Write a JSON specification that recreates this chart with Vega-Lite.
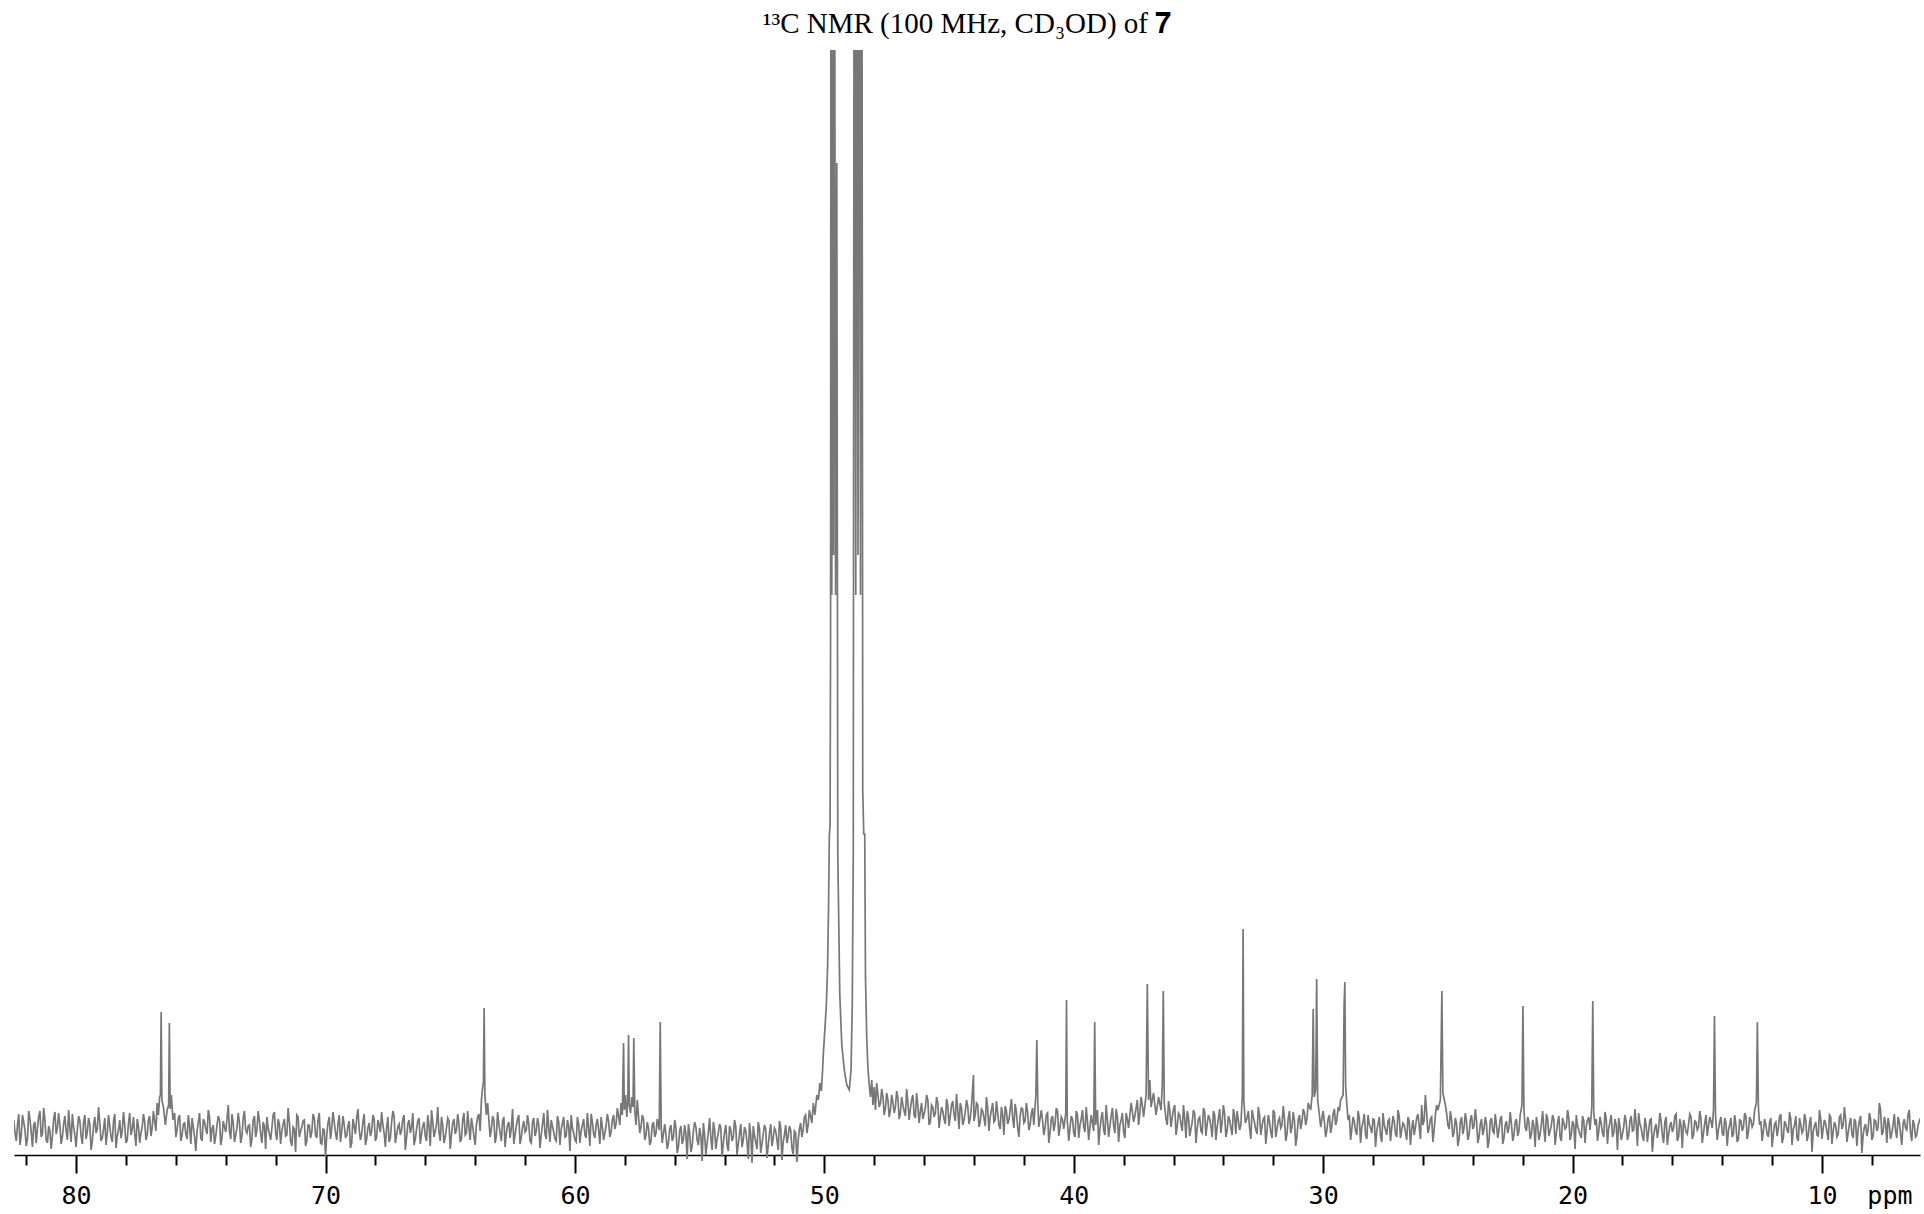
{
"$schema": "https://vega.github.io/schema/vega-lite/v6.json",
"width": 1906, "height": 1120,
"autosize": {"type": "none"},
"padding": {"left": 14, "top": 50, "right": 4, "bottom": 44},
"background": "white",
"title": {"text": "¹³C NMR (100 MHz, CD₃OD) of 𝟕", "font": "Liberation Serif", "fontSize": 29, "fontWeight": "normal", "color": "black", "anchor": "middle", "baseline": "alphabetic", "offset": 8, "dy": 20},
"config": {"view": {"stroke": null}},
"data": {"values": [
{"ppm":82.5,"i":35},{"ppm":82.4,"i":14},{"ppm":82.3,"i":41},{"ppm":82.2,"i":20},{"ppm":82.1,"i":33},{"ppm":82.0,"i":9},{"ppm":81.9,"i":44},{"ppm":81.8,"i":23},{"ppm":81.7,"i":30},{"ppm":81.6,"i":12},{"ppm":81.5,"i":38},{"ppm":81.4,"i":18},{"ppm":81.3,"i":47},{"ppm":81.2,"i":15},{"ppm":81.1,"i":29},{"ppm":81.0,"i":6},{"ppm":80.9,"i":36},{"ppm":80.8,"i":21},{"ppm":80.7,"i":42},{"ppm":80.6,"i":11},{"ppm":80.5,"i":31},{"ppm":80.4,"i":24},{"ppm":80.3,"i":45},{"ppm":80.2,"i":13},{"ppm":80.1,"i":28},{"ppm":80.0,"i":8},{"ppm":79.9,"i":39},{"ppm":79.8,"i":19},{"ppm":79.7,"i":33},{"ppm":79.6,"i":16},{"ppm":79.5,"i":37},{"ppm":79.4,"i":5},{"ppm":79.3,"i":30},{"ppm":79.2,"i":22},{"ppm":79.1,"i":48},{"ppm":79.0,"i":14},{"ppm":78.9,"i":26},{"ppm":78.8,"i":10},{"ppm":78.7,"i":40},{"ppm":78.6,"i":18},{"ppm":78.5,"i":34},{"ppm":78.4,"i":7},{"ppm":78.3,"i":25},{"ppm":78.2,"i":17},{"ppm":78.1,"i":43},{"ppm":78.0,"i":12},{"ppm":77.9,"i":32},{"ppm":77.8,"i":20},{"ppm":77.7,"i":38},{"ppm":77.6,"i":9},{"ppm":77.5,"i":29},{"ppm":77.4,"i":22},{"ppm":77.3,"i":41},{"ppm":77.2,"i":15},{"ppm":77.1,"i":35},{"ppm":77.0,"i":19},{"ppm":76.9,"i":44},{"ppm":76.8,"i":24},{"ppm":76.75,"i":52},{"ppm":76.7,"i":40},{"ppm":76.65,"i":58},{"ppm":76.62,"i":60},{"ppm":76.59,"i":143},{"ppm":76.56,"i":55},{"ppm":76.5,"i":48},{"ppm":76.42,"i":30},{"ppm":76.35,"i":45},{"ppm":76.29,"i":50},{"ppm":76.26,"i":132},{"ppm":76.23,"i":46},{"ppm":76.18,"i":60},{"ppm":76.12,"i":35},{"ppm":76.05,"i":42},{"ppm":76.0,"i":18},{"ppm":75.9,"i":37},{"ppm":75.8,"i":14},{"ppm":75.7,"i":31},{"ppm":75.6,"i":21},{"ppm":75.5,"i":40},{"ppm":75.4,"i":11},{"ppm":75.3,"i":28},{"ppm":75.2,"i":4},{"ppm":75.1,"i":33},{"ppm":75.0,"i":17},{"ppm":74.9,"i":36},{"ppm":74.8,"i":26},{"ppm":74.7,"i":45},{"ppm":74.6,"i":13},{"ppm":74.5,"i":30},{"ppm":74.4,"i":19},{"ppm":74.3,"i":39},{"ppm":74.2,"i":10},{"ppm":74.1,"i":34},{"ppm":74.0,"i":23},{"ppm":73.9,"i":50},{"ppm":73.8,"i":16},{"ppm":73.7,"i":32},{"ppm":73.6,"i":20},{"ppm":73.5,"i":42},{"ppm":73.4,"i":12},{"ppm":73.3,"i":37},{"ppm":73.2,"i":25},{"ppm":73.1,"i":29},{"ppm":73.0,"i":8},{"ppm":72.9,"i":35},{"ppm":72.8,"i":18},{"ppm":72.7,"i":44},{"ppm":72.6,"i":21},{"ppm":72.5,"i":33},{"ppm":72.4,"i":6},{"ppm":72.3,"i":27},{"ppm":72.2,"i":15},{"ppm":72.1,"i":40},{"ppm":72.0,"i":22},{"ppm":71.9,"i":36},{"ppm":71.8,"i":11},{"ppm":71.7,"i":31},{"ppm":71.6,"i":19},{"ppm":71.5,"i":47},{"ppm":71.4,"i":14},{"ppm":71.3,"i":28},{"ppm":71.2,"i":3},{"ppm":71.1,"i":38},{"ppm":71.0,"i":24},{"ppm":70.9,"i":34},{"ppm":70.8,"i":9},{"ppm":70.7,"i":30},{"ppm":70.6,"i":17},{"ppm":70.5,"i":41},{"ppm":70.4,"i":20},{"ppm":70.3,"i":35},{"ppm":70.2,"i":12},{"ppm":70.1,"i":26},{"ppm":70.0,"i":-2},{"ppm":69.9,"i":32},{"ppm":69.8,"i":16},{"ppm":69.7,"i":43},{"ppm":69.6,"i":22},{"ppm":69.5,"i":31},{"ppm":69.4,"i":13},{"ppm":69.3,"i":39},{"ppm":69.2,"i":18},{"ppm":69.1,"i":29},{"ppm":69.0,"i":7},{"ppm":68.9,"i":36},{"ppm":68.8,"i":21},{"ppm":68.7,"i":46},{"ppm":68.6,"i":15},{"ppm":68.5,"i":33},{"ppm":68.4,"i":10},{"ppm":68.3,"i":27},{"ppm":68.2,"i":19},{"ppm":68.1,"i":40},{"ppm":68.0,"i":14},{"ppm":67.9,"i":35},{"ppm":67.8,"i":23},{"ppm":67.7,"i":30},{"ppm":67.6,"i":8},{"ppm":67.5,"i":38},{"ppm":67.4,"i":17},{"ppm":67.3,"i":44},{"ppm":67.2,"i":12},{"ppm":67.1,"i":28},{"ppm":67.0,"i":20},{"ppm":66.9,"i":36},{"ppm":66.8,"i":5},{"ppm":66.7,"i":31},{"ppm":66.6,"i":22},{"ppm":66.5,"i":42},{"ppm":66.4,"i":16},{"ppm":66.3,"i":34},{"ppm":66.2,"i":11},{"ppm":66.1,"i":29},{"ppm":66.0,"i":19},{"ppm":65.9,"i":40},{"ppm":65.8,"i":9},{"ppm":65.7,"i":33},{"ppm":65.6,"i":24},{"ppm":65.5,"i":48},{"ppm":65.4,"i":14},{"ppm":65.3,"i":30},{"ppm":65.2,"i":18},{"ppm":65.1,"i":37},{"ppm":65.0,"i":6},{"ppm":64.9,"i":32},{"ppm":64.8,"i":21},{"ppm":64.7,"i":41},{"ppm":64.6,"i":13},{"ppm":64.5,"i":35},{"ppm":64.4,"i":20},{"ppm":64.3,"i":44},{"ppm":64.2,"i":15},{"ppm":64.1,"i":29},{"ppm":64.0,"i":10},{"ppm":63.9,"i":38},{"ppm":63.8,"i":24},{"ppm":63.75,"i":55},{"ppm":63.7,"i":68},{"ppm":63.67,"i":72},{"ppm":63.64,"i":147},{"ppm":63.61,"i":60},{"ppm":63.55,"i":40},{"ppm":63.5,"i":52},{"ppm":63.4,"i":18},{"ppm":63.3,"i":39},{"ppm":63.2,"i":12},{"ppm":63.1,"i":43},{"ppm":63.0,"i":22},{"ppm":62.9,"i":34},{"ppm":62.8,"i":8},{"ppm":62.7,"i":30},{"ppm":62.6,"i":17},{"ppm":62.5,"i":46},{"ppm":62.4,"i":20},{"ppm":62.3,"i":36},{"ppm":62.2,"i":11},{"ppm":62.1,"i":28},{"ppm":62.0,"i":23},{"ppm":61.9,"i":40},{"ppm":61.8,"i":14},{"ppm":61.7,"i":33},{"ppm":61.6,"i":19},{"ppm":61.5,"i":37},{"ppm":61.4,"i":7},{"ppm":61.3,"i":31},{"ppm":61.2,"i":21},{"ppm":61.1,"i":45},{"ppm":61.0,"i":13},{"ppm":60.9,"i":29},{"ppm":60.8,"i":16},{"ppm":60.7,"i":39},{"ppm":60.6,"i":10},{"ppm":60.5,"i":32},{"ppm":60.4,"i":18},{"ppm":60.3,"i":35},{"ppm":60.2,"i":4},{"ppm":60.1,"i":27},{"ppm":60.0,"i":15},{"ppm":59.9,"i":38},{"ppm":59.8,"i":12},{"ppm":59.7,"i":30},{"ppm":59.6,"i":20},{"ppm":59.5,"i":42},{"ppm":59.4,"i":9},{"ppm":59.3,"i":33},{"ppm":59.2,"i":17},{"ppm":59.1,"i":36},{"ppm":59.0,"i":11},{"ppm":58.9,"i":28},{"ppm":58.8,"i":22},{"ppm":58.7,"i":41},{"ppm":58.6,"i":18},{"ppm":58.5,"i":35},{"ppm":58.4,"i":26},{"ppm":58.3,"i":47},{"ppm":58.2,"i":30},{"ppm":58.15,"i":52},{"ppm":58.1,"i":40},{"ppm":58.05,"i":112},{"ppm":58.02,"i":45},{"ppm":57.97,"i":60},{"ppm":57.92,"i":38},{"ppm":57.88,"i":55},{"ppm":57.85,"i":120},{"ppm":57.82,"i":50},{"ppm":57.77,"i":42},{"ppm":57.72,"i":58},{"ppm":57.67,"i":48},{"ppm":57.64,"i":117},{"ppm":57.6,"i":44},{"ppm":57.55,"i":30},{"ppm":57.5,"i":55},{"ppm":57.4,"i":22},{"ppm":57.3,"i":40},{"ppm":57.2,"i":15},{"ppm":57.1,"i":33},{"ppm":57.0,"i":10},{"ppm":56.9,"i":30},{"ppm":56.8,"i":18},{"ppm":56.7,"i":36},{"ppm":56.62,"i":25},{"ppm":56.58,"i":133},{"ppm":56.54,"i":28},{"ppm":56.5,"i":12},{"ppm":56.4,"i":31},{"ppm":56.3,"i":6},{"ppm":56.2,"i":26},{"ppm":56.1,"i":14},{"ppm":56.0,"i":35},{"ppm":55.9,"i":2},{"ppm":55.8,"i":24},{"ppm":55.7,"i":11},{"ppm":55.6,"i":30},{"ppm":55.5,"i":-4},{"ppm":55.4,"i":22},{"ppm":55.3,"i":9},{"ppm":55.2,"i":33},{"ppm":55.1,"i":15},{"ppm":55.0,"i":27},{"ppm":54.9,"i":-6},{"ppm":54.8,"i":20},{"ppm":54.7,"i":12},{"ppm":54.6,"i":37},{"ppm":54.5,"i":5},{"ppm":54.4,"i":25},{"ppm":54.3,"i":16},{"ppm":54.2,"i":31},{"ppm":54.1,"i":-2},{"ppm":54.0,"i":23},{"ppm":53.9,"i":10},{"ppm":53.8,"i":29},{"ppm":53.7,"i":14},{"ppm":53.6,"i":35},{"ppm":53.5,"i":0},{"ppm":53.4,"i":21},{"ppm":53.3,"i":8},{"ppm":53.2,"i":28},{"ppm":53.1,"i":13},{"ppm":53.0,"i":32},{"ppm":52.9,"i":-8},{"ppm":52.8,"i":19},{"ppm":52.7,"i":6},{"ppm":52.6,"i":26},{"ppm":52.5,"i":11},{"ppm":52.4,"i":30},{"ppm":52.3,"i":-3},{"ppm":52.2,"i":22},{"ppm":52.1,"i":9},{"ppm":52.0,"i":27},{"ppm":51.9,"i":15},{"ppm":51.8,"i":34},{"ppm":51.7,"i":-5},{"ppm":51.6,"i":20},{"ppm":51.5,"i":12},{"ppm":51.4,"i":29},{"ppm":51.3,"i":7},{"ppm":51.2,"i":24},{"ppm":51.1,"i":-7},{"ppm":51.0,"i":26},{"ppm":50.9,"i":18},{"ppm":50.8,"i":38},{"ppm":50.7,"i":22},{"ppm":50.6,"i":45},{"ppm":50.5,"i":32},{"ppm":50.44,"i":52},{"ppm":50.38,"i":40},{"ppm":50.3,"i":60},{"ppm":50.24,"i":55},{"ppm":50.18,"i":72},{"ppm":50.12,"i":64},{"ppm":50.08,"i":80},{"ppm":50.04,"i":101},{"ppm":49.98,"i":125},{"ppm":49.92,"i":150},{"ppm":49.87,"i":188},{"ppm":49.83,"i":250},{"ppm":49.8,"i":319},{"ppm":49.77,"i":330},{"ppm":49.75,"i":518},{"ppm":49.73,"i":1500},{"ppm":49.7,"i":560},{"ppm":49.67,"i":1500},{"ppm":49.63,"i":600},{"ppm":49.6,"i":1500},{"ppm":49.55,"i":560},{"ppm":49.5,"i":992},{"ppm":49.46,"i":300},{"ppm":49.38,"i":160},{"ppm":49.3,"i":110},{"ppm":49.2,"i":85},{"ppm":49.1,"i":70},{"ppm":49.0,"i":65},{"ppm":48.93,"i":85},{"ppm":48.88,"i":150},{"ppm":48.84,"i":300},{"ppm":48.8,"i":1500},{"ppm":48.74,"i":560},{"ppm":48.7,"i":1500},{"ppm":48.65,"i":600},{"ppm":48.6,"i":1500},{"ppm":48.55,"i":560},{"ppm":48.5,"i":1500},{"ppm":48.46,"i":365},{"ppm":48.42,"i":321},{"ppm":48.38,"i":321},{"ppm":48.35,"i":178},{"ppm":48.3,"i":117},{"ppm":48.25,"i":86},{"ppm":48.2,"i":70},{"ppm":48.15,"i":58},{"ppm":48.1,"i":75},{"ppm":48.05,"i":50},{"ppm":48.0,"i":68},{"ppm":47.95,"i":45},{"ppm":47.9,"i":72},{"ppm":47.8,"i":48},{"ppm":47.7,"i":66},{"ppm":47.6,"i":40},{"ppm":47.5,"i":62},{"ppm":47.4,"i":38},{"ppm":47.3,"i":60},{"ppm":47.2,"i":42},{"ppm":47.1,"i":64},{"ppm":47.0,"i":36},{"ppm":46.9,"i":58},{"ppm":46.8,"i":44},{"ppm":46.7,"i":66},{"ppm":46.6,"i":35},{"ppm":46.5,"i":55},{"ppm":46.4,"i":40},{"ppm":46.3,"i":62},{"ppm":46.2,"i":32},{"ppm":46.1,"i":52},{"ppm":46.0,"i":41},{"ppm":45.9,"i":60},{"ppm":45.8,"i":30},{"ppm":45.7,"i":50},{"ppm":45.6,"i":38},{"ppm":45.5,"i":58},{"ppm":45.4,"i":27},{"ppm":45.3,"i":48},{"ppm":45.2,"i":36},{"ppm":45.1,"i":56},{"ppm":45.0,"i":29},{"ppm":44.9,"i":50},{"ppm":44.8,"i":40},{"ppm":44.7,"i":61},{"ppm":44.6,"i":26},{"ppm":44.5,"i":47},{"ppm":44.4,"i":35},{"ppm":44.3,"i":55},{"ppm":44.2,"i":31},{"ppm":44.1,"i":49},{"ppm":44.02,"i":80},{"ppm":44.0,"i":34},{"ppm":43.9,"i":52},{"ppm":43.8,"i":28},{"ppm":43.7,"i":46},{"ppm":43.6,"i":37},{"ppm":43.5,"i":58},{"ppm":43.4,"i":24},{"ppm":43.3,"i":45},{"ppm":43.2,"i":33},{"ppm":43.1,"i":54},{"ppm":43.0,"i":30},{"ppm":42.9,"i":48},{"ppm":42.8,"i":20},{"ppm":42.7,"i":44},{"ppm":42.6,"i":35},{"ppm":42.5,"i":56},{"ppm":42.4,"i":27},{"ppm":42.3,"i":43},{"ppm":42.2,"i":18},{"ppm":42.1,"i":47},{"ppm":42.0,"i":32},{"ppm":41.9,"i":52},{"ppm":41.8,"i":25},{"ppm":41.7,"i":41},{"ppm":41.6,"i":30},{"ppm":41.52,"i":60},{"ppm":41.48,"i":115},{"ppm":41.44,"i":50},{"ppm":41.4,"i":28},{"ppm":41.3,"i":45},{"ppm":41.2,"i":20},{"ppm":41.1,"i":40},{"ppm":41.0,"i":12},{"ppm":40.9,"i":36},{"ppm":40.8,"i":24},{"ppm":40.7,"i":47},{"ppm":40.6,"i":19},{"ppm":40.5,"i":38},{"ppm":40.4,"i":26},{"ppm":40.32,"i":42},{"ppm":40.29,"i":155},{"ppm":40.26,"i":35},{"ppm":40.2,"i":14},{"ppm":40.1,"i":39},{"ppm":40.0,"i":22},{"ppm":39.9,"i":44},{"ppm":39.8,"i":17},{"ppm":39.7,"i":36},{"ppm":39.6,"i":28},{"ppm":39.5,"i":48},{"ppm":39.4,"i":15},{"ppm":39.3,"i":40},{"ppm":39.2,"i":24},{"ppm":39.16,"i":133},{"ppm":39.12,"i":30},{"ppm":39.05,"i":45},{"ppm":39.0,"i":10},{"ppm":38.9,"i":37},{"ppm":38.8,"i":25},{"ppm":38.7,"i":50},{"ppm":38.6,"i":18},{"ppm":38.5,"i":39},{"ppm":38.4,"i":29},{"ppm":38.3,"i":46},{"ppm":38.2,"i":13},{"ppm":38.1,"i":35},{"ppm":38.0,"i":23},{"ppm":37.9,"i":42},{"ppm":37.8,"i":27},{"ppm":37.7,"i":52},{"ppm":37.6,"i":33},{"ppm":37.5,"i":47},{"ppm":37.4,"i":30},{"ppm":37.3,"i":58},{"ppm":37.2,"i":38},{"ppm":37.1,"i":60},{"ppm":37.05,"i":171},{"ppm":37.0,"i":55},{"ppm":36.95,"i":75},{"ppm":36.9,"i":48},{"ppm":36.8,"i":62},{"ppm":36.7,"i":40},{"ppm":36.6,"i":58},{"ppm":36.5,"i":45},{"ppm":36.45,"i":70},{"ppm":36.41,"i":164},{"ppm":36.37,"i":52},{"ppm":36.3,"i":36},{"ppm":36.2,"i":54},{"ppm":36.1,"i":28},{"ppm":36.0,"i":46},{"ppm":35.9,"i":20},{"ppm":35.8,"i":42},{"ppm":35.7,"i":31},{"ppm":35.6,"i":50},{"ppm":35.5,"i":17},{"ppm":35.4,"i":38},{"ppm":35.3,"i":26},{"ppm":35.2,"i":45},{"ppm":35.1,"i":12},{"ppm":35.0,"i":36},{"ppm":34.9,"i":24},{"ppm":34.8,"i":47},{"ppm":34.7,"i":19},{"ppm":34.6,"i":40},{"ppm":34.5,"i":29},{"ppm":34.4,"i":44},{"ppm":34.3,"i":15},{"ppm":34.2,"i":37},{"ppm":34.1,"i":22},{"ppm":34.0,"i":50},{"ppm":33.9,"i":18},{"ppm":33.8,"i":39},{"ppm":33.7,"i":27},{"ppm":33.6,"i":46},{"ppm":33.5,"i":21},{"ppm":33.4,"i":35},{"ppm":33.3,"i":30},{"ppm":33.24,"i":60},{"ppm":33.21,"i":226},{"ppm":33.18,"i":55},{"ppm":33.12,"i":32},{"ppm":33.0,"i":44},{"ppm":32.9,"i":16},{"ppm":32.8,"i":38},{"ppm":32.7,"i":25},{"ppm":32.6,"i":48},{"ppm":32.5,"i":20},{"ppm":32.4,"i":36},{"ppm":32.3,"i":11},{"ppm":32.2,"i":40},{"ppm":32.1,"i":23},{"ppm":32.0,"i":45},{"ppm":31.9,"i":18},{"ppm":31.8,"i":34},{"ppm":31.7,"i":27},{"ppm":31.6,"i":49},{"ppm":31.5,"i":14},{"ppm":31.4,"i":37},{"ppm":31.3,"i":22},{"ppm":31.2,"i":43},{"ppm":31.1,"i":9},{"ppm":31.0,"i":35},{"ppm":30.9,"i":26},{"ppm":30.8,"i":46},{"ppm":30.7,"i":30},{"ppm":30.6,"i":52},{"ppm":30.5,"i":45},{"ppm":30.44,"i":60},{"ppm":30.4,"i":146},{"ppm":30.36,"i":58},{"ppm":30.3,"i":65},{"ppm":30.26,"i":176},{"ppm":30.22,"i":55},{"ppm":30.15,"i":40},{"ppm":30.1,"i":28},{"ppm":30.0,"i":44},{"ppm":29.9,"i":18},{"ppm":29.8,"i":36},{"ppm":29.7,"i":22},{"ppm":29.6,"i":41},{"ppm":29.5,"i":30},{"ppm":29.4,"i":48},{"ppm":29.3,"i":55},{"ppm":29.2,"i":60},{"ppm":29.16,"i":150},{"ppm":29.13,"i":173},{"ppm":29.1,"i":70},{"ppm":29.05,"i":50},{"ppm":29.0,"i":35},{"ppm":28.9,"i":15},{"ppm":28.8,"i":38},{"ppm":28.7,"i":24},{"ppm":28.6,"i":44},{"ppm":28.5,"i":12},{"ppm":28.4,"i":33},{"ppm":28.3,"i":20},{"ppm":28.2,"i":40},{"ppm":28.1,"i":27},{"ppm":28.0,"i":36},{"ppm":27.9,"i":8},{"ppm":27.8,"i":31},{"ppm":27.7,"i":19},{"ppm":27.6,"i":42},{"ppm":27.5,"i":25},{"ppm":27.4,"i":34},{"ppm":27.3,"i":14},{"ppm":27.2,"i":39},{"ppm":27.1,"i":21},{"ppm":27.0,"i":45},{"ppm":26.9,"i":17},{"ppm":26.8,"i":32},{"ppm":26.7,"i":23},{"ppm":26.6,"i":38},{"ppm":26.5,"i":10},{"ppm":26.4,"i":35},{"ppm":26.3,"i":28},{"ppm":26.2,"i":41},{"ppm":26.1,"i":16},{"ppm":26.0,"i":30},{"ppm":25.9,"i":60},{"ppm":25.8,"i":22},{"ppm":25.7,"i":36},{"ppm":25.6,"i":13},{"ppm":25.5,"i":40},{"ppm":25.4,"i":45},{"ppm":25.3,"i":55},{"ppm":25.24,"i":164},{"ppm":25.2,"i":62},{"ppm":25.1,"i":50},{"ppm":25.0,"i":30},{"ppm":24.9,"i":44},{"ppm":24.8,"i":18},{"ppm":24.7,"i":37},{"ppm":24.6,"i":9},{"ppm":24.5,"i":33},{"ppm":24.4,"i":21},{"ppm":24.3,"i":42},{"ppm":24.2,"i":15},{"ppm":24.1,"i":35},{"ppm":24.0,"i":26},{"ppm":23.9,"i":46},{"ppm":23.8,"i":12},{"ppm":23.7,"i":31},{"ppm":23.6,"i":20},{"ppm":23.5,"i":38},{"ppm":23.4,"i":7},{"ppm":23.3,"i":34},{"ppm":23.2,"i":24},{"ppm":23.1,"i":41},{"ppm":23.0,"i":17},{"ppm":22.9,"i":36},{"ppm":22.8,"i":11},{"ppm":22.7,"i":30},{"ppm":22.6,"i":22},{"ppm":22.5,"i":43},{"ppm":22.4,"i":14},{"ppm":22.3,"i":33},{"ppm":22.2,"i":19},{"ppm":22.1,"i":40},{"ppm":22.03,"i":50},{"ppm":21.99,"i":149},{"ppm":21.95,"i":45},{"ppm":21.9,"i":28},{"ppm":21.8,"i":38},{"ppm":21.7,"i":16},{"ppm":21.6,"i":35},{"ppm":21.5,"i":8},{"ppm":21.4,"i":30},{"ppm":21.3,"i":21},{"ppm":21.2,"i":44},{"ppm":21.1,"i":13},{"ppm":21.0,"i":36},{"ppm":20.9,"i":24},{"ppm":20.8,"i":40},{"ppm":20.7,"i":10},{"ppm":20.6,"i":32},{"ppm":20.5,"i":18},{"ppm":20.4,"i":37},{"ppm":20.3,"i":26},{"ppm":20.2,"i":45},{"ppm":20.1,"i":15},{"ppm":20.0,"i":34},{"ppm":19.9,"i":6},{"ppm":19.8,"i":29},{"ppm":19.7,"i":20},{"ppm":19.6,"i":39},{"ppm":19.5,"i":12},{"ppm":19.4,"i":35},{"ppm":19.3,"i":25},{"ppm":19.23,"i":48},{"ppm":19.19,"i":154},{"ppm":19.15,"i":42},{"ppm":19.1,"i":30},{"ppm":19.0,"i":14},{"ppm":18.9,"i":38},{"ppm":18.8,"i":22},{"ppm":18.7,"i":43},{"ppm":18.6,"i":11},{"ppm":18.5,"i":33},{"ppm":18.4,"i":18},{"ppm":18.3,"i":36},{"ppm":18.2,"i":5},{"ppm":18.1,"i":28},{"ppm":18.0,"i":21},{"ppm":17.9,"i":40},{"ppm":17.8,"i":15},{"ppm":17.7,"i":34},{"ppm":17.6,"i":24},{"ppm":17.5,"i":46},{"ppm":17.4,"i":9},{"ppm":17.3,"i":31},{"ppm":17.2,"i":19},{"ppm":17.1,"i":37},{"ppm":17.0,"i":13},{"ppm":16.9,"i":35},{"ppm":16.8,"i":3},{"ppm":16.7,"i":27},{"ppm":16.6,"i":17},{"ppm":16.5,"i":42},{"ppm":16.4,"i":20},{"ppm":16.3,"i":33},{"ppm":16.2,"i":10},{"ppm":16.1,"i":29},{"ppm":16.0,"i":23},{"ppm":15.9,"i":39},{"ppm":15.8,"i":14},{"ppm":15.7,"i":36},{"ppm":15.6,"i":7},{"ppm":15.5,"i":30},{"ppm":15.4,"i":21},{"ppm":15.3,"i":41},{"ppm":15.2,"i":16},{"ppm":15.1,"i":34},{"ppm":15.0,"i":25},{"ppm":14.9,"i":44},{"ppm":14.8,"i":12},{"ppm":14.7,"i":32},{"ppm":14.6,"i":19},{"ppm":14.5,"i":38},{"ppm":14.4,"i":27},{"ppm":14.35,"i":45},{"ppm":14.31,"i":139},{"ppm":14.27,"i":40},{"ppm":14.2,"i":15},{"ppm":14.1,"i":33},{"ppm":14.0,"i":22},{"ppm":13.9,"i":37},{"ppm":13.8,"i":9},{"ppm":13.7,"i":30},{"ppm":13.6,"i":18},{"ppm":13.5,"i":40},{"ppm":13.4,"i":13},{"ppm":13.3,"i":35},{"ppm":13.2,"i":24},{"ppm":13.1,"i":42},{"ppm":13.0,"i":16},{"ppm":12.9,"i":38},{"ppm":12.8,"i":28},{"ppm":12.7,"i":45},{"ppm":12.63,"i":52},{"ppm":12.59,"i":133},{"ppm":12.55,"i":48},{"ppm":12.5,"i":30},{"ppm":12.4,"i":14},{"ppm":12.3,"i":36},{"ppm":12.2,"i":21},{"ppm":12.1,"i":33},{"ppm":12.0,"i":8},{"ppm":11.9,"i":31},{"ppm":11.8,"i":19},{"ppm":11.7,"i":39},{"ppm":11.6,"i":12},{"ppm":11.5,"i":34},{"ppm":11.4,"i":25},{"ppm":11.3,"i":43},{"ppm":11.2,"i":10},{"ppm":11.1,"i":30},{"ppm":11.0,"i":17},{"ppm":10.9,"i":37},{"ppm":10.8,"i":22},{"ppm":10.7,"i":41},{"ppm":10.6,"i":14},{"ppm":10.5,"i":32},{"ppm":10.4,"i":3},{"ppm":10.3,"i":29},{"ppm":10.2,"i":20},{"ppm":10.1,"i":45},{"ppm":10.0,"i":16},{"ppm":9.9,"i":35},{"ppm":9.8,"i":23},{"ppm":9.7,"i":40},{"ppm":9.6,"i":11},{"ppm":9.5,"i":33},{"ppm":9.4,"i":18},{"ppm":9.3,"i":38},{"ppm":9.2,"i":26},{"ppm":9.1,"i":48},{"ppm":9.0,"i":13},{"ppm":8.9,"i":31},{"ppm":8.8,"i":21},{"ppm":8.7,"i":36},{"ppm":8.6,"i":9},{"ppm":8.5,"i":34},{"ppm":8.4,"i":2},{"ppm":8.3,"i":28},{"ppm":8.2,"i":19},{"ppm":8.1,"i":42},{"ppm":8.0,"i":15},{"ppm":7.9,"i":35},{"ppm":7.8,"i":24},{"ppm":7.7,"i":52},{"ppm":7.6,"i":20},{"ppm":7.5,"i":38},{"ppm":7.4,"i":12},{"ppm":7.3,"i":30},{"ppm":7.2,"i":22},{"ppm":7.1,"i":41},{"ppm":7.0,"i":17},{"ppm":6.9,"i":33},{"ppm":6.8,"i":10},{"ppm":6.7,"i":36},{"ppm":6.6,"i":25},{"ppm":6.5,"i":45},{"ppm":6.4,"i":14},{"ppm":6.3,"i":30},{"ppm":6.2,"i":20},{"ppm":6.1,"i":34},{"ppm":6.0,"i":18},
{"ppm":82.45,"i":22},{"ppm":82.35,"i":30},{"ppm":82.25,"i":10},{"ppm":82.15,"i":40},{"ppm":82.05,"i":25},{"ppm":81.95,"i":16},{"ppm":81.85,"i":36},{"ppm":81.75,"i":8},{"ppm":81.65,"i":33},{"ppm":81.55,"i":27},{"ppm":81.45,"i":44},{"ppm":81.35,"i":21},{"ppm":81.25,"i":35},{"ppm":81.15,"i":12},{"ppm":81.05,"i":24},{"ppm":80.95,"i":19},{"ppm":80.85,"i":43},{"ppm":80.75,"i":27},{"ppm":80.65,"i":30},{"ppm":80.55,"i":18},{"ppm":80.45,"i":39},{"ppm":80.35,"i":15},{"ppm":80.25,"i":28},{"ppm":80.15,"i":41},{"ppm":80.05,"i":20},{"ppm":79.95,"i":26},{"ppm":79.85,"i":34},{"ppm":79.75,"i":11},{"ppm":79.65,"i":40},{"ppm":79.55,"i":23},{"ppm":79.45,"i":31},{"ppm":79.35,"i":14},{"ppm":79.25,"i":38},{"ppm":79.15,"i":26},{"ppm":79.05,"i":32},{"ppm":78.95,"i":17},{"ppm":78.85,"i":37},{"ppm":78.75,"i":22},{"ppm":78.65,"i":29},{"ppm":78.55,"i":13},{"ppm":78.45,"i":41},{"ppm":78.35,"i":19},{"ppm":78.25,"i":35},{"ppm":78.15,"i":24},{"ppm":78.05,"i":30},{"ppm":77.95,"i":15},{"ppm":77.85,"i":42},{"ppm":77.75,"i":26},{"ppm":77.65,"i":21},{"ppm":77.55,"i":36},{"ppm":77.45,"i":12},{"ppm":77.35,"i":28},{"ppm":77.25,"i":33},{"ppm":77.15,"i":20},{"ppm":77.05,"i":39},{"ppm":76.95,"i":27},{"ppm":76.85,"i":34},
{"ppm":75.95,"i":25},{"ppm":75.85,"i":40},{"ppm":75.75,"i":20},{"ppm":75.65,"i":32},{"ppm":75.55,"i":16},{"ppm":75.45,"i":29},{"ppm":75.35,"i":37},{"ppm":75.25,"i":18},{"ppm":75.15,"i":24},{"ppm":75.05,"i":42},{"ppm":74.95,"i":14},{"ppm":74.85,"i":33},{"ppm":74.75,"i":21},{"ppm":74.65,"i":38},{"ppm":74.55,"i":26},{"ppm":74.45,"i":11},{"ppm":74.35,"i":30},{"ppm":74.25,"i":35},{"ppm":74.15,"i":17},{"ppm":74.05,"i":28},{"ppm":73.95,"i":36},{"ppm":73.85,"i":24},{"ppm":73.75,"i":41},{"ppm":73.65,"i":13},{"ppm":73.55,"i":27},{"ppm":73.45,"i":32},{"ppm":73.35,"i":19},{"ppm":73.25,"i":44},{"ppm":73.15,"i":22},{"ppm":73.05,"i":30},{"ppm":72.95,"i":16},{"ppm":72.85,"i":39},{"ppm":72.75,"i":25},{"ppm":72.65,"i":34},{"ppm":72.55,"i":12},{"ppm":72.45,"i":29},{"ppm":72.35,"i":38},{"ppm":72.25,"i":21},{"ppm":72.15,"i":27},{"ppm":72.05,"i":43},{"ppm":71.95,"i":15},{"ppm":71.85,"i":31},{"ppm":71.75,"i":24},{"ppm":71.65,"i":36},{"ppm":71.55,"i":20},{"ppm":71.45,"i":33},{"ppm":71.35,"i":9},{"ppm":71.25,"i":26},{"ppm":71.15,"i":40},{"ppm":71.05,"i":18},{"ppm":70.95,"i":28},{"ppm":70.85,"i":35},{"ppm":70.75,"i":14},{"ppm":70.65,"i":30},{"ppm":70.55,"i":23},{"ppm":70.45,"i":37},{"ppm":70.35,"i":17},{"ppm":70.25,"i":42},{"ppm":70.15,"i":11},{"ppm":70.05,"i":25},{"ppm":69.95,"i":20},{"ppm":69.85,"i":38},{"ppm":69.75,"i":27},{"ppm":69.65,"i":33},{"ppm":69.55,"i":15},{"ppm":69.45,"i":40},{"ppm":69.35,"i":24},{"ppm":69.25,"i":30},{"ppm":69.15,"i":19},{"ppm":69.05,"i":34},{"ppm":68.95,"i":12},{"ppm":68.85,"i":29},{"ppm":68.75,"i":37},{"ppm":68.65,"i":26},{"ppm":68.55,"i":21},{"ppm":68.45,"i":41},{"ppm":68.35,"i":16},{"ppm":68.25,"i":32},{"ppm":68.15,"i":24},{"ppm":68.05,"i":36},{"ppm":67.95,"i":18},{"ppm":67.85,"i":30},{"ppm":67.75,"i":43},{"ppm":67.65,"i":22},{"ppm":67.55,"i":27},{"ppm":67.45,"i":13},{"ppm":67.35,"i":33},{"ppm":67.25,"i":39},{"ppm":67.15,"i":20},{"ppm":67.05,"i":31},{"ppm":66.95,"i":25},{"ppm":66.85,"i":40},{"ppm":66.75,"i":17},{"ppm":66.65,"i":35},{"ppm":66.55,"i":28},{"ppm":66.45,"i":10},{"ppm":66.35,"i":26},{"ppm":66.25,"i":37},{"ppm":66.15,"i":21},{"ppm":66.05,"i":33},{"ppm":65.95,"i":14},{"ppm":65.85,"i":29},{"ppm":65.75,"i":45},{"ppm":65.65,"i":18},{"ppm":65.55,"i":30},{"ppm":65.45,"i":23},{"ppm":65.35,"i":38},{"ppm":65.25,"i":12},{"ppm":65.15,"i":27},{"ppm":65.05,"i":34},{"ppm":64.95,"i":20},{"ppm":64.85,"i":36},{"ppm":64.75,"i":25},{"ppm":64.65,"i":31},{"ppm":64.55,"i":16},{"ppm":64.45,"i":42},{"ppm":64.35,"i":22},{"ppm":64.25,"i":28},{"ppm":64.15,"i":37},{"ppm":64.05,"i":19},{"ppm":63.95,"i":30},{"ppm":63.85,"i":41},
{"ppm":63.35,"i":26},{"ppm":63.25,"i":35},{"ppm":63.15,"i":19},{"ppm":63.05,"i":31},{"ppm":62.95,"i":14},{"ppm":62.85,"i":38},{"ppm":62.75,"i":22},{"ppm":62.65,"i":33},{"ppm":62.55,"i":27},{"ppm":62.45,"i":11},{"ppm":62.35,"i":29},{"ppm":62.25,"i":40},{"ppm":62.15,"i":18},{"ppm":62.05,"i":34},{"ppm":61.95,"i":25},{"ppm":61.85,"i":31},{"ppm":61.75,"i":12},{"ppm":61.65,"i":37},{"ppm":61.55,"i":24},{"ppm":61.45,"i":30},{"ppm":61.35,"i":20},{"ppm":61.25,"i":42},{"ppm":61.15,"i":16},{"ppm":61.05,"i":28},{"ppm":60.95,"i":35},{"ppm":60.85,"i":23},{"ppm":60.75,"i":14},{"ppm":60.65,"i":33},{"ppm":60.55,"i":26},{"ppm":60.45,"i":38},{"ppm":60.35,"i":19},{"ppm":60.25,"i":29},{"ppm":60.15,"i":40},{"ppm":60.05,"i":22},{"ppm":59.95,"i":13},{"ppm":59.85,"i":31},{"ppm":59.75,"i":24},{"ppm":59.65,"i":36},{"ppm":59.55,"i":17},{"ppm":59.45,"i":27},{"ppm":59.35,"i":41},{"ppm":59.25,"i":21},{"ppm":59.15,"i":30},{"ppm":59.05,"i":25},{"ppm":58.95,"i":38},{"ppm":58.85,"i":15},{"ppm":58.75,"i":29},{"ppm":58.65,"i":34},{"ppm":58.55,"i":23},{"ppm":58.45,"i":40},{"ppm":58.35,"i":31},
{"ppm":57.35,"i":28},{"ppm":57.25,"i":36},{"ppm":57.15,"i":20},{"ppm":57.05,"i":27},{"ppm":56.95,"i":14},{"ppm":56.85,"i":33},{"ppm":56.75,"i":22},
{"ppm":56.35,"i":20},{"ppm":56.25,"i":12},{"ppm":56.15,"i":30},{"ppm":56.05,"i":18},{"ppm":55.95,"i":27},{"ppm":55.85,"i":8},{"ppm":55.75,"i":29},{"ppm":55.65,"i":16},{"ppm":55.55,"i":21},{"ppm":55.45,"i":31},{"ppm":55.35,"i":3},{"ppm":55.25,"i":24},{"ppm":55.15,"i":28},{"ppm":55.05,"i":10},{"ppm":54.95,"i":19},{"ppm":54.85,"i":32},{"ppm":54.75,"i":0},{"ppm":54.65,"i":23},{"ppm":54.55,"i":17},{"ppm":54.45,"i":33},{"ppm":54.35,"i":6},{"ppm":54.25,"i":22},{"ppm":54.15,"i":27},{"ppm":54.05,"i":12},{"ppm":53.95,"i":30},{"ppm":53.85,"i":4},{"ppm":53.75,"i":25},{"ppm":53.65,"i":18},{"ppm":53.55,"i":28},{"ppm":53.45,"i":11},{"ppm":53.35,"i":31},{"ppm":53.25,"i":15},{"ppm":53.15,"i":24},{"ppm":53.05,"i":-4},{"ppm":52.95,"i":20},{"ppm":52.85,"i":29},{"ppm":52.75,"i":13},{"ppm":52.65,"i":33},{"ppm":52.55,"i":2},{"ppm":52.45,"i":21},{"ppm":52.35,"i":26},{"ppm":52.25,"i":9},{"ppm":52.15,"i":31},{"ppm":52.05,"i":17},{"ppm":51.95,"i":24},{"ppm":51.85,"i":5},{"ppm":51.75,"i":28},{"ppm":51.65,"i":13},{"ppm":51.55,"i":30},{"ppm":51.45,"i":19},{"ppm":51.35,"i":25},{"ppm":51.25,"i":1},{"ppm":51.15,"i":22},{"ppm":51.05,"i":14},{"ppm":50.95,"i":32},{"ppm":50.85,"i":25},{"ppm":50.75,"i":40},{"ppm":50.65,"i":30},
{"ppm":47.85,"i":60},{"ppm":47.75,"i":52},{"ppm":47.65,"i":58},{"ppm":47.55,"i":47},{"ppm":47.45,"i":55},{"ppm":47.35,"i":45},{"ppm":47.25,"i":53},{"ppm":47.15,"i":48},{"ppm":47.05,"i":57},{"ppm":46.95,"i":42},{"ppm":46.85,"i":50},{"ppm":46.75,"i":39},{"ppm":46.65,"i":53},{"ppm":46.55,"i":46},{"ppm":46.45,"i":60},{"ppm":46.35,"i":37},{"ppm":46.25,"i":49},{"ppm":46.15,"i":44},{"ppm":46.05,"i":36},{"ppm":45.95,"i":47},{"ppm":45.85,"i":55},{"ppm":45.75,"i":33},{"ppm":45.65,"i":48},{"ppm":45.55,"i":42},{"ppm":45.45,"i":52},{"ppm":45.35,"i":38},{"ppm":45.25,"i":44},{"ppm":45.15,"i":31},{"ppm":45.05,"i":50},{"ppm":44.95,"i":39},{"ppm":44.85,"i":54},{"ppm":44.75,"i":34},{"ppm":44.65,"i":45},{"ppm":44.55,"i":52},{"ppm":44.45,"i":30},{"ppm":44.35,"i":43},{"ppm":44.25,"i":49},{"ppm":44.15,"i":37},
{"ppm":43.95,"i":40},{"ppm":43.85,"i":50},{"ppm":43.75,"i":33},{"ppm":43.65,"i":44},{"ppm":43.55,"i":29},{"ppm":43.45,"i":47},{"ppm":43.35,"i":38},{"ppm":43.25,"i":52},{"ppm":43.15,"i":35},{"ppm":43.05,"i":42},{"ppm":42.95,"i":26},{"ppm":42.85,"i":40},{"ppm":42.75,"i":49},{"ppm":42.65,"i":31},{"ppm":42.55,"i":45},{"ppm":42.45,"i":37},{"ppm":42.35,"i":51},{"ppm":42.25,"i":28},{"ppm":42.15,"i":39},{"ppm":42.05,"i":46},{"ppm":41.95,"i":34},{"ppm":41.85,"i":43},{"ppm":41.75,"i":30},{"ppm":41.65,"i":47},
{"ppm":41.25,"i":35},{"ppm":41.15,"i":27},{"ppm":41.05,"i":42},{"ppm":40.95,"i":22},{"ppm":40.85,"i":39},{"ppm":40.75,"i":31},{"ppm":40.65,"i":44},{"ppm":40.55,"i":28},{"ppm":40.45,"i":35},
{"ppm":40.15,"i":27},{"ppm":40.05,"i":36},{"ppm":39.95,"i":18},{"ppm":39.85,"i":40},{"ppm":39.75,"i":30},{"ppm":39.65,"i":45},{"ppm":39.55,"i":23},{"ppm":39.45,"i":34},{"ppm":39.35,"i":28},
{"ppm":38.95,"i":26},{"ppm":38.85,"i":43},{"ppm":38.75,"i":20},{"ppm":38.65,"i":35},{"ppm":38.55,"i":29},{"ppm":38.45,"i":47},{"ppm":38.35,"i":22},{"ppm":38.25,"i":38},{"ppm":38.15,"i":30},{"ppm":38.05,"i":42},{"ppm":37.95,"i":17},{"ppm":37.85,"i":36},{"ppm":37.75,"i":40},{"ppm":37.65,"i":44},{"ppm":37.55,"i":39},{"ppm":37.45,"i":55},{"ppm":37.35,"i":42},{"ppm":37.25,"i":50},
{"ppm":36.25,"i":30},{"ppm":36.15,"i":45},{"ppm":36.05,"i":38},{"ppm":35.95,"i":50},{"ppm":35.85,"i":29},{"ppm":35.75,"i":40},{"ppm":35.65,"i":24},{"ppm":35.55,"i":36},{"ppm":35.45,"i":44},{"ppm":35.35,"i":19},{"ppm":35.25,"i":33},{"ppm":35.15,"i":41},{"ppm":35.05,"i":27},{"ppm":34.95,"i":38},{"ppm":34.85,"i":22},{"ppm":34.75,"i":43},{"ppm":34.65,"i":31},{"ppm":34.55,"i":36},{"ppm":34.45,"i":18},{"ppm":34.35,"i":40},{"ppm":34.25,"i":28},{"ppm":34.15,"i":46},{"ppm":34.05,"i":33},{"ppm":33.95,"i":41},{"ppm":33.85,"i":24},{"ppm":33.75,"i":35},{"ppm":33.65,"i":20},{"ppm":33.55,"i":39},{"ppm":33.45,"i":44},{"ppm":33.35,"i":25},
{"ppm":33.05,"i":37},{"ppm":32.95,"i":27},{"ppm":32.85,"i":45},{"ppm":32.75,"i":32},{"ppm":32.65,"i":21},{"ppm":32.55,"i":40},{"ppm":32.45,"i":29},{"ppm":32.35,"i":38},{"ppm":32.25,"i":24},{"ppm":32.15,"i":33},{"ppm":32.05,"i":17},{"ppm":31.95,"i":42},{"ppm":31.85,"i":26},{"ppm":31.75,"i":37},{"ppm":31.65,"i":30},{"ppm":31.55,"i":36},{"ppm":31.45,"i":21},{"ppm":31.35,"i":44},{"ppm":31.25,"i":28},{"ppm":31.15,"i":34},{"ppm":31.05,"i":19},{"ppm":30.95,"i":40},{"ppm":30.85,"i":33},{"ppm":30.75,"i":42},{"ppm":30.65,"i":36},
{"ppm":29.95,"i":33},{"ppm":29.85,"i":25},{"ppm":29.75,"i":40},{"ppm":29.65,"i":29},{"ppm":29.55,"i":46},{"ppm":29.45,"i":35},{"ppm":29.35,"i":44},
{"ppm":28.95,"i":40},{"ppm":28.85,"i":26},{"ppm":28.75,"i":33},{"ppm":28.65,"i":20},{"ppm":28.55,"i":37},{"ppm":28.45,"i":28},{"ppm":28.35,"i":41},{"ppm":28.25,"i":16},{"ppm":28.15,"i":31},{"ppm":28.05,"i":22},{"ppm":27.95,"i":35},{"ppm":27.85,"i":24},{"ppm":27.75,"i":38},{"ppm":27.65,"i":13},{"ppm":27.55,"i":30},{"ppm":27.45,"i":20},{"ppm":27.35,"i":36},{"ppm":27.25,"i":27},{"ppm":27.15,"i":33},{"ppm":27.05,"i":18},{"ppm":26.95,"i":39},{"ppm":26.85,"i":25},{"ppm":26.75,"i":30},{"ppm":26.65,"i":15},{"ppm":26.55,"i":34},{"ppm":26.45,"i":26},{"ppm":26.35,"i":20},{"ppm":26.25,"i":37},{"ppm":26.15,"i":29},{"ppm":26.05,"i":50},{"ppm":25.95,"i":35},{"ppm":25.85,"i":42},{"ppm":25.75,"i":27},{"ppm":25.65,"i":38},{"ppm":25.55,"i":25},{"ppm":25.45,"i":50},
{"ppm":25.05,"i":42},{"ppm":24.95,"i":26},{"ppm":24.85,"i":35},{"ppm":24.75,"i":23},{"ppm":24.65,"i":31},{"ppm":24.55,"i":16},{"ppm":24.45,"i":38},{"ppm":24.35,"i":27},{"ppm":24.25,"i":33},{"ppm":24.15,"i":20},{"ppm":24.05,"i":40},{"ppm":23.95,"i":29},{"ppm":23.85,"i":34},{"ppm":23.75,"i":18},{"ppm":23.65,"i":36},{"ppm":23.55,"i":26},{"ppm":23.45,"i":31},{"ppm":23.35,"i":14},{"ppm":23.25,"i":37},{"ppm":23.15,"i":22},{"ppm":23.05,"i":30},{"ppm":22.95,"i":25},{"ppm":22.85,"i":39},{"ppm":22.75,"i":17},{"ppm":22.65,"i":34},{"ppm":22.55,"i":27},{"ppm":22.45,"i":31},{"ppm":22.35,"i":20},{"ppm":22.25,"i":36},{"ppm":22.15,"i":24},
{"ppm":21.85,"i":24},{"ppm":21.75,"i":33},{"ppm":21.65,"i":21},{"ppm":21.55,"i":29},{"ppm":21.45,"i":38},{"ppm":21.35,"i":15},{"ppm":21.25,"i":31},{"ppm":21.15,"i":26},{"ppm":21.05,"i":41},{"ppm":20.95,"i":19},{"ppm":20.85,"i":30},{"ppm":20.75,"i":35},{"ppm":20.65,"i":22},{"ppm":20.55,"i":39},{"ppm":20.45,"i":14},{"ppm":20.35,"i":32},{"ppm":20.25,"i":28},{"ppm":20.15,"i":37},{"ppm":20.05,"i":21},{"ppm":19.95,"i":30},{"ppm":19.85,"i":40},{"ppm":19.75,"i":25},{"ppm":19.65,"i":17},{"ppm":19.55,"i":34},{"ppm":19.45,"i":29},{"ppm":19.35,"i":38},
{"ppm":19.05,"i":36},{"ppm":18.95,"i":24},{"ppm":18.85,"i":31},{"ppm":18.75,"i":18},{"ppm":18.65,"i":36},{"ppm":18.55,"i":27},{"ppm":18.45,"i":40},{"ppm":18.35,"i":22},{"ppm":18.25,"i":30},{"ppm":18.15,"i":37},{"ppm":18.05,"i":15},{"ppm":17.95,"i":28},{"ppm":17.85,"i":33},{"ppm":17.75,"i":20},{"ppm":17.65,"i":39},{"ppm":17.55,"i":25},{"ppm":17.45,"i":32},{"ppm":17.35,"i":42},{"ppm":17.25,"i":27},{"ppm":17.15,"i":14},{"ppm":17.05,"i":30},{"ppm":16.95,"i":24},{"ppm":16.85,"i":36},{"ppm":16.75,"i":19},{"ppm":16.65,"i":31},{"ppm":16.55,"i":26},{"ppm":16.45,"i":34},{"ppm":16.35,"i":12},{"ppm":16.25,"i":38},{"ppm":16.15,"i":21},{"ppm":16.05,"i":33},{"ppm":15.95,"i":27},{"ppm":15.85,"i":41},{"ppm":15.75,"i":18},{"ppm":15.65,"i":29},{"ppm":15.55,"i":35},{"ppm":15.45,"i":23},{"ppm":15.35,"i":31},{"ppm":15.25,"i":38},{"ppm":15.15,"i":20},{"ppm":15.05,"i":33},{"ppm":14.95,"i":28},{"ppm":14.85,"i":36},{"ppm":14.75,"i":22},{"ppm":14.65,"i":40},{"ppm":14.55,"i":29},{"ppm":14.45,"i":34},
{"ppm":14.15,"i":26},{"ppm":14.05,"i":38},{"ppm":13.95,"i":19},{"ppm":13.85,"i":32},{"ppm":13.75,"i":25},{"ppm":13.65,"i":37},{"ppm":13.55,"i":21},{"ppm":13.45,"i":30},{"ppm":13.35,"i":16},{"ppm":13.25,"i":34},{"ppm":13.15,"i":28},{"ppm":13.05,"i":39},{"ppm":12.95,"i":23},{"ppm":12.85,"i":35},{"ppm":12.75,"i":31},
{"ppm":12.45,"i":34},{"ppm":12.35,"i":24},{"ppm":12.25,"i":30},{"ppm":12.15,"i":18},{"ppm":12.05,"i":37},{"ppm":11.95,"i":21},{"ppm":11.85,"i":33},{"ppm":11.75,"i":27},{"ppm":11.65,"i":40},{"ppm":11.55,"i":17},{"ppm":11.45,"i":31},{"ppm":11.35,"i":22},{"ppm":11.25,"i":36},{"ppm":11.15,"i":26},{"ppm":11.05,"i":39},{"ppm":10.95,"i":14},{"ppm":10.85,"i":30},{"ppm":10.75,"i":25},{"ppm":10.65,"i":35},{"ppm":10.55,"i":20},{"ppm":10.45,"i":38},{"ppm":10.35,"i":24},{"ppm":10.25,"i":33},{"ppm":10.15,"i":19},{"ppm":10.05,"i":36},{"ppm":9.95,"i":27},{"ppm":9.85,"i":31},{"ppm":9.75,"i":15},{"ppm":9.65,"i":38},{"ppm":9.55,"i":24},{"ppm":9.45,"i":29},{"ppm":9.35,"i":21},{"ppm":9.25,"i":40},{"ppm":9.15,"i":30},{"ppm":9.05,"i":35},{"ppm":8.95,"i":22},{"ppm":8.85,"i":37},{"ppm":8.75,"i":17},{"ppm":8.65,"i":33},{"ppm":8.55,"i":26},{"ppm":8.45,"i":39},{"ppm":8.35,"i":20},{"ppm":8.25,"i":31},{"ppm":8.15,"i":25},{"ppm":8.05,"i":36},{"ppm":7.95,"i":19},{"ppm":7.85,"i":34},{"ppm":7.75,"i":28},{"ppm":7.65,"i":45},{"ppm":7.55,"i":23},{"ppm":7.45,"i":32},{"ppm":7.35,"i":37},{"ppm":7.25,"i":16},{"ppm":7.15,"i":30},{"ppm":7.05,"i":24},{"ppm":6.95,"i":38},{"ppm":6.85,"i":21},{"ppm":6.75,"i":31},{"ppm":6.65,"i":27},{"ppm":6.55,"i":40},{"ppm":6.45,"i":22},{"ppm":6.35,"i":35},{"ppm":6.25,"i":18},{"ppm":6.15,"i":29},{"ppm":6.05,"i":37}
]},
"mark": {"type": "line", "color": "#777777", "strokeWidth": 1.7, "clip": true},
"encoding": {
 "x": {"field": "ppm", "type": "quantitative",
  "scale": {"domain": [6.07, 82.49], "reverse": true, "nice": false, "zero": false},
  "axis": {"values": [82,80,78,76,74,72,70,68,66,64,62,60,58,56,54,52,50,48,46,44,42,40,38,36,34,32,30,28,26,24,22,20,18,16,14,12,10,8],
   "offset": -15, "grid": false, "domainColor": "black", "domainWidth": 1.5,
   "tickColor": "black", "tickWidth": 2,
   "tickSize": {"condition": {"test": "datum.value % 10 === 0", "value": 18}, "value": 10},
   "labelExpr": "datum.value % 10 === 0 ? datum.label : ''",
   "labelFont": "DejaVu Sans Mono", "labelFontSize": 25, "labelColor": "black", "labelPadding": 10,
   "labelFlush": false, "labelOverlap": false,
   "title": "ppm", "titleFont": "DejaVu Sans Mono", "titleFontSize": 25, "titleFontWeight": "normal", "titleColor": "black",
   "titleX": 1898, "titleY": 48, "titleAlign": "right", "titleBaseline": "alphabetic"}},
 "y": {"field": "i", "type": "quantitative", "scale": {"domain": [-15, 1105], "nice": false, "zero": false}, "axis": null}
}
}
